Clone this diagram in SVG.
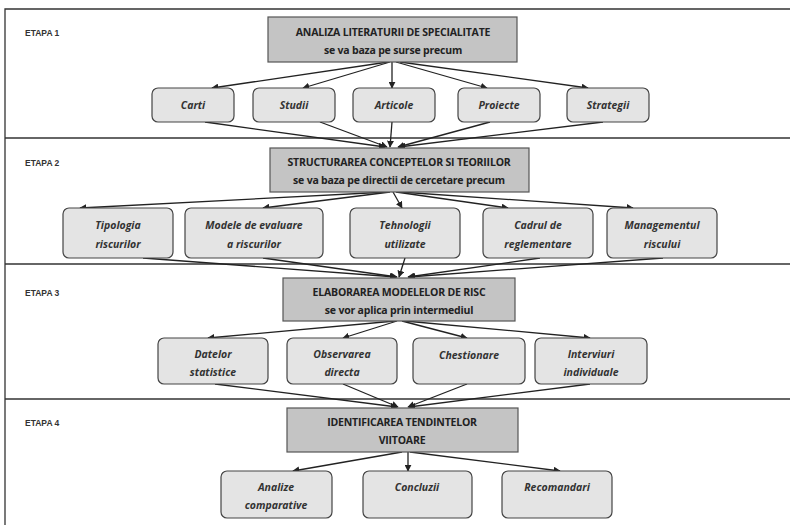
<svg xmlns="http://www.w3.org/2000/svg" width="790" height="525" viewBox="0 0 790 525">
<defs>
<marker id="ah" viewBox="0 0 10 10" refX="9" refY="5" markerWidth="7" markerHeight="7" orient="auto" markerUnits="userSpaceOnUse">
<path d="M0,0 L10,5 L0,10 z" fill="#222"/>
</marker>
<style>
.frame{fill:none;stroke:#333;stroke-width:1.3}
.hdr{fill:#c4c4c4;stroke:#555;stroke-width:1.2}
.box{fill:#e4e4e4;stroke:#444;stroke-width:1.2}
.stage{font-family:"Liberation Sans",Arial,sans-serif;font-size:8.5px;font-weight:bold;fill:#333}
.ht{font-family:"Open Sans","Liberation Sans",sans-serif;font-size:10.5px;font-weight:bold;fill:#222;text-anchor:middle;letter-spacing:-0.2px}
.bt{font-family:"Open Sans","Liberation Sans",sans-serif;font-size:10.5px;font-weight:bold;font-style:italic;fill:#333;text-anchor:middle}
.cn line{stroke:#222;stroke-width:1.3;marker-end:url(#ah)}
</style>
</defs>
<rect width="790" height="525" fill="#fff"/>
<g id="frame" class="frame">
<path d="M790,9 H5 V525"/>
<line x1="5" y1="138" x2="790" y2="138"/>
<line x1="5" y1="264" x2="790" y2="264"/>
<line x1="5" y1="399" x2="790" y2="399"/>
</g>
<g id="stages">
<text class="stage" x="25" y="36">ETAPA 1</text>
<text class="stage" x="25" y="166">ETAPA 2</text>
<text class="stage" x="25" y="296">ETAPA 3</text>
<text class="stage" x="25" y="426">ETAPA 4</text>
</g>
<g id="connectors" class="cn">
<line x1="388" y1="62" x2="212" y2="88"/>
<line x1="390" y1="62" x2="303" y2="88"/>
<line x1="392" y1="62" x2="392" y2="88"/>
<line x1="396" y1="62" x2="487" y2="88"/>
<line x1="400" y1="62" x2="588" y2="88"/>
<line x1="205" y1="122" x2="385" y2="147"/>
<line x1="320" y1="122" x2="387" y2="147"/>
<line x1="392" y1="122" x2="390" y2="147"/>
<line x1="490" y1="122" x2="398" y2="147"/>
<line x1="603" y1="122" x2="399" y2="147"/>
<line x1="388" y1="192" x2="80" y2="208"/>
<line x1="390" y1="192" x2="263" y2="208"/>
<line x1="393" y1="192" x2="402" y2="208"/>
<line x1="396" y1="192" x2="508" y2="208"/>
<line x1="400" y1="192" x2="633" y2="208"/>
<line x1="143" y1="258" x2="396" y2="277"/>
<line x1="263" y1="258" x2="397" y2="277"/>
<line x1="405" y1="258" x2="399" y2="277"/>
<line x1="540" y1="258" x2="408" y2="277"/>
<line x1="663" y1="258" x2="409" y2="277"/>
<line x1="395" y1="321" x2="208" y2="338"/>
<line x1="397" y1="321" x2="343" y2="338"/>
<line x1="402" y1="321" x2="467" y2="338"/>
<line x1="405" y1="321" x2="590" y2="338"/>
<line x1="215" y1="384" x2="397" y2="407"/>
<line x1="343" y1="384" x2="398" y2="407"/>
<line x1="467" y1="384" x2="408" y2="407"/>
<line x1="590" y1="384" x2="409" y2="407"/>
<line x1="402" y1="452" x2="293" y2="471"/>
<line x1="408" y1="452" x2="408" y2="471"/>
<line x1="410" y1="452" x2="560" y2="471"/>
</g>
<g id="h1"><rect class="hdr" x="268" y="17" width="249" height="45"/><text class="ht" x="393" y="36">ANALIZA LITERATURII DE SPECIALITATE</text><text class="ht" x="393" y="54">se va baza pe surse precum</text></g>
<g id="carti"><rect class="box" x="152" y="88" width="82" height="34" rx="6"/><text class="bt" x="193" y="109">Carti</text></g>
<g id="studii"><rect class="box" x="253" y="88" width="82" height="34" rx="6"/><text class="bt" x="294" y="109">Studii</text></g>
<g id="articole"><rect class="box" x="353" y="88" width="82" height="34" rx="6"/><text class="bt" x="394" y="109">Articole</text></g>
<g id="proiecte"><rect class="box" x="458" y="88" width="82" height="34" rx="6"/><text class="bt" x="499" y="109">Proiecte</text></g>
<g id="strategii"><rect class="box" x="567" y="88" width="82" height="34" rx="6"/><text class="bt" x="608" y="109">Strategii</text></g>
<g id="h2"><rect class="hdr" x="270" y="148" width="259" height="44"/><text class="ht" x="399" y="166">STRUCTURAREA CONCEPTELOR SI TEORIILOR</text><text class="ht" x="399" y="184">se va baza pe directii de cercetare precum</text></g>
<g id="tipologia"><rect class="box" x="63" y="208" width="110" height="50" rx="6"/><text class="bt" x="118" y="229">Tipologia</text><text class="bt" x="118" y="248">riscurilor</text></g>
<g id="modele"><rect class="box" x="185" y="208" width="138" height="50" rx="6"/><text class="bt" x="254" y="229">Modele de evaluare</text><text class="bt" x="254" y="248">a riscurilor</text></g>
<g id="tehnologii"><rect class="box" x="350" y="208" width="110" height="50" rx="6"/><text class="bt" x="405" y="229">Tehnologii</text><text class="bt" x="405" y="248">utilizate</text></g>
<g id="cadrul"><rect class="box" x="483" y="208" width="110" height="50" rx="6"/><text class="bt" x="538" y="229">Cadrul de</text><text class="bt" x="538" y="248">reglementare</text></g>
<g id="management"><rect class="box" x="607" y="208" width="110" height="50" rx="6"/><text class="bt" x="662" y="229">Managementul</text><text class="bt" x="662" y="248">riscului</text></g>
<g id="h3"><rect class="hdr" x="283" y="278" width="232" height="43"/><text class="ht" x="399" y="296">ELABORAREA MODELELOR DE RISC</text><text class="ht" x="399" y="314">se vor aplica prin intermediul</text></g>
<g id="datelor"><rect class="box" x="158" y="338" width="110" height="46" rx="6"/><text class="bt" x="213" y="358">Datelor</text><text class="bt" x="213" y="376">statistice</text></g>
<g id="observarea"><rect class="box" x="287" y="338" width="110" height="46" rx="6"/><text class="bt" x="342" y="358">Observarea</text><text class="bt" x="342" y="376">directa</text></g>
<g id="chestionare"><rect class="box" x="413" y="338" width="112" height="46" rx="6"/><text class="bt" x="469" y="359">Chestionare</text></g>
<g id="interviuri"><rect class="box" x="535" y="338" width="112" height="46" rx="6"/><text class="bt" x="591" y="358">Interviuri</text><text class="bt" x="591" y="376">individuale</text></g>
<g id="h4"><rect class="hdr" x="287" y="408" width="231" height="44"/><text class="ht" x="402" y="426">IDENTIFICAREA TENDINTELOR</text><text class="ht" x="402" y="444">VIITOARE</text></g>
<g id="analize"><rect class="box" x="221" y="471" width="111" height="47" rx="6"/><text class="bt" x="276" y="491">Analize</text><text class="bt" x="276" y="509">comparative</text></g>
<g id="concluzii"><rect class="box" x="363" y="471" width="109" height="47" rx="6"/><text class="bt" x="417" y="491">Concluzii</text></g>
<g id="recomandari"><rect class="box" x="502" y="471" width="110" height="47" rx="6"/><text class="bt" x="557" y="491">Recomandari</text></g>
</svg>
